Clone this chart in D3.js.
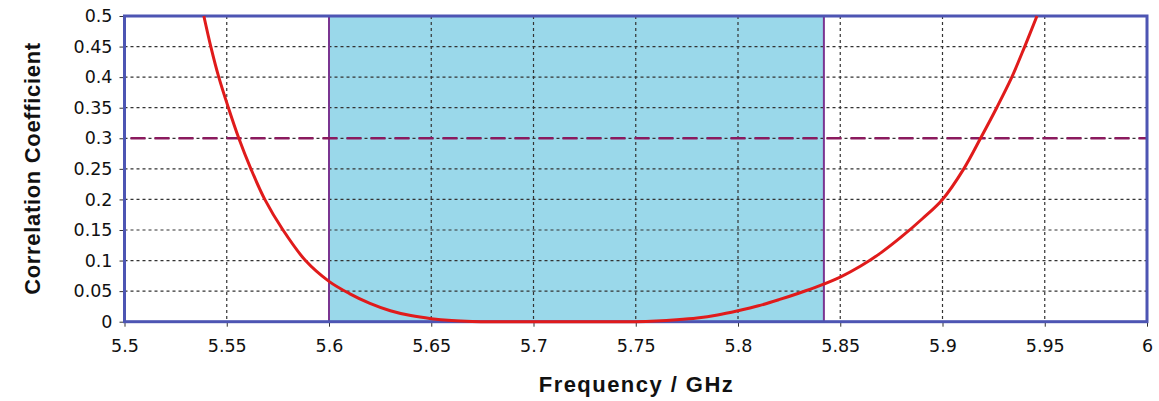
<!DOCTYPE html>
<html>
<head>
<meta charset="utf-8">
<script src="https://cdn.jsdelivr.net/npm/d3@7"></script>
<style>
  body { margin: 0; background: #fff; }
  .tick text { font-family: "DejaVu Sans", Verdana, sans-serif; font-size: 17.5px; fill: #111; }
  .title { font-family: "Liberation Sans", Arial, sans-serif; font-weight: bold; font-size: 22px; fill: #111; }
</style>
</head>
<body>
<div id="vis"></div>
<script>
// values
let freq = [5.5388, 5.5422, 5.5461, 5.5508, 5.5559, 5.5618, 5.5686, 5.5775, 5.5885, 5.6,
  5.61, 5.62, 5.63, 5.64, 5.65, 5.66, 5.67, 5.68, 5.72, 5.75,
  5.76, 5.77, 5.78, 5.79, 5.80, 5.81, 5.82, 5.83, 5.84, 5.85,
  5.86, 5.87, 5.88, 5.89, 5.90, 5.9104, 5.9186, 5.9265, 5.9339, 5.9402, 5.9462];
let corr = [0.5, 0.45, 0.4, 0.35, 0.3, 0.25, 0.2, 0.15, 0.1, 0.066,
  0.046, 0.030, 0.018, 0.010, 0.005, 0.002, 0.0005, 0, 0, 0,
  0.001, 0.003, 0.006, 0.011, 0.018, 0.026, 0.036, 0.047, 0.059, 0.073,
  0.091, 0.113, 0.139, 0.168, 0.2, 0.25, 0.3, 0.35, 0.4, 0.45, 0.5];

let xTicks = [5.5, 5.55, 5.6, 5.65, 5.7, 5.75, 5.8, 5.85, 5.9, 5.95, 6];
let xTickLabels = ['5.5', '5.55', '5.6', '5.65', '5.7', '5.75', '5.8', '5.85', '5.9', '5.95', '6'];
let yTicks = [0, 0.05, 0.1, 0.15, 0.2, 0.25, 0.3, 0.35, 0.4, 0.45, 0.5];
let yTickLabels = ['0', '0.05', '0.1', '0.15', '0.2', '0.25', '0.3', '0.35', '0.4', '0.45', '0.5'];

let band = [5.6, 5.842];   // shaded frequency band
let threshold = 0.3;       // dashed limit line

let margin = { top: 16, left: 124.5, right: 12, bottom: 79.3 },
  W = 1159, H = 401,
  width = W - margin.left - margin.right,
  height = H - margin.top - margin.bottom;

let svg = d3.select('#vis').append('svg')
  .attr('width', W)
  .attr('height', H)
  .style('display', 'block');

let g = svg.append('g').attr('transform', `translate(${margin.left},${margin.top})`);

let x = d3.scaleLinear().domain([5.5, 6]).range([0, width]);
let y = d3.scaleLinear().domain([0, 0.5]).range([height, 0]);

// shaded band
g.append('rect')
  .attr('x', x(band[0]))
  .attr('y', 0)
  .attr('width', x(band[1]) - x(band[0]))
  .attr('height', height)
  .attr('fill', '#9ad8ea');

// grid
g.append('g').selectAll('line').data(xTicks.slice(1, -1)).join('line')
  .attr('x1', d => x(d)).attr('x2', d => x(d))
  .attr('y1', 0).attr('y2', height)
  .attr('stroke', '#333').attr('stroke-width', 1.2).attr('stroke-dasharray', '3,3');
g.append('g').selectAll('line').data(yTicks.slice(1, -1)).join('line')
  .attr('x1', 0).attr('x2', width)
  .attr('y1', d => y(d)).attr('y2', d => y(d))
  .attr('stroke', '#333').attr('stroke-width', 1.2).attr('stroke-dasharray', '3,3');

// band edges
g.append('g').selectAll('line').data(band).join('line')
  .attr('x1', d => x(d)).attr('x2', d => x(d))
  .attr('y1', 0).attr('y2', height)
  .attr('stroke', '#7a3591').attr('stroke-width', 2);

// threshold
g.append('line')
  .attr('x1', 0).attr('x2', width)
  .attr('y1', y(threshold)).attr('y2', y(threshold))
  .attr('stroke', '#8b1a5e').attr('stroke-width', 2.5)
  .attr('stroke-dasharray', '15,9')
  .attr('stroke-dashoffset', -6);

// axes
let xAxis = g.append('g')
  .attr('transform', `translate(0,${height})`)
  .call(d3.axisBottom(x).tickValues(xTicks).tickFormat((d, i) => xTickLabels[i]).tickSize(5).tickPadding(13));
let yAxis = g.append('g')
  .call(d3.axisLeft(y).tickValues(yTicks).tickFormat((d, i) => yTickLabels[i]).tickSize(5).tickPadding(7));
[xAxis, yAxis].forEach(a => {
  a.select('.domain').remove();
  a.selectAll('.tick line').attr('stroke', '#333');
  a.selectAll('.tick text').attr('font-family', null).attr('font-size', null);
});

// border
g.append('rect')
  .attr('width', width).attr('height', height)
  .attr('fill', 'none')
  .attr('stroke', '#4d55b3').attr('stroke-width', 3);

// curve
let line = d3.line()
  .x((d, i) => x(freq[i]))
  .y(d => y(d))
  .curve(d3.curveCatmullRom.alpha(0.5));
g.append('path')
  .datum(corr)
  .attr('d', line)
  .attr('fill', 'none')
  .attr('stroke', '#e01b1b')
  .attr('stroke-width', 3)
  .attr('stroke-linejoin', 'round');

// titles
svg.append('text')
  .attr('class', 'title')
  .attr('x', margin.left + width / 2)
  .attr('y', 392)
  .attr('text-anchor', 'middle')
  .attr('textLength', 194)
  .attr('lengthAdjust', 'spacing')
  .text('Frequency / GHz');
svg.append('text')
  .attr('class', 'title')
  .attr('transform', `translate(40,${margin.top + height / 2}) rotate(-90)`)
  .attr('text-anchor', 'middle')
  .attr('textLength', 252)
  .attr('lengthAdjust', 'spacing')
  .text('Correlation Coefficient');
</script>
</body>
</html>
